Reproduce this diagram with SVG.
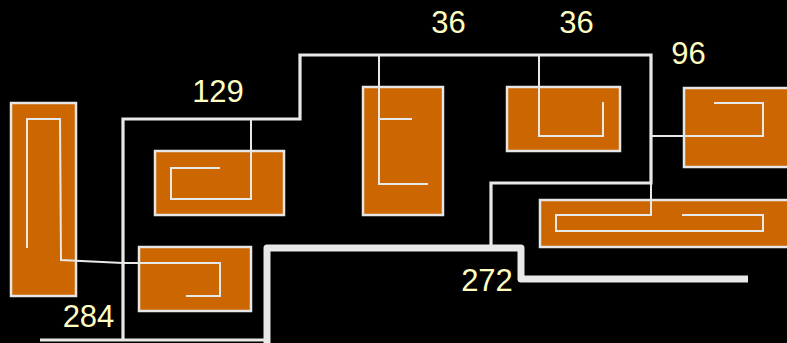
<svg xmlns="http://www.w3.org/2000/svg" width="787" height="343" viewBox="0 0 787 343">
<style>
.box{fill:#cc6600;stroke:#e6e6e6;stroke-width:2.5}
.w{fill:none;stroke:#e8e8e8;stroke-width:2;stroke-linejoin:miter}
.m{fill:none;stroke:#e8e8e8;stroke-width:3.2}
.t{fill:none;stroke:#e8e8e8;stroke-width:7;stroke-linejoin:round}
.lbl{font-family:"Liberation Sans",Arial,sans-serif;font-size:31px;fill:#ffffc4;text-anchor:middle}
</style>
<rect width="787" height="343" fill="#000"/>
<g id="node-left"><rect class="box" x="11" y="103" width="65" height="193"/></g>
<g id="node-bottomleft"><rect class="box" x="139" y="247" width="112" height="64"/></g>
<g id="node-129"><rect class="box" x="155" y="151" width="129" height="64"/></g>
<g id="node-36a"><rect class="box" x="363" y="87" width="80" height="128"/></g>
<g id="node-36b"><rect class="box" x="507" y="87" width="113" height="64"/></g>
<g id="node-96"><rect class="box" x="684" y="88" width="120" height="79"/></g>
<g id="node-long"><rect class="box" x="540" y="200" width="260" height="47"/></g>
<g id="connectors">
<path class="m" d="M40,340 H267"/>
<path class="m" d="M123,341 V119 H300 V55 H651 V183 H491 V248"/>
<path class="t" d="M267,346 V248 H521 V279 H748" stroke-linecap="butt"/>
<path class="w" d="M251,119 V199 H171 V168 H220"/>
<path class="w" d="M379,55 V184 H428 M379,119 H412"/>
<path class="w" d="M539,55 V136 H603 V102"/>
<path class="w" d="M651,136 H763 V103 H714"/>
<path class="w" d="M651,183 V215 H556 V231 H763 V215 H682"/>
<path class="w" d="M27,248 V119 H60 L61,260 L123,263 H220 V296 H186"/>
</g>
<g id="labels">
<text class="lbl" x="448.5" y="33">36</text>
<text class="lbl" x="576.5" y="33">36</text>
<text class="lbl" x="688.5" y="64">96</text>
<text class="lbl" x="218" y="102">129</text>
<text class="lbl" x="88.5" y="327">284</text>
<text class="lbl" x="487" y="291">272</text>
</g>
</svg>
